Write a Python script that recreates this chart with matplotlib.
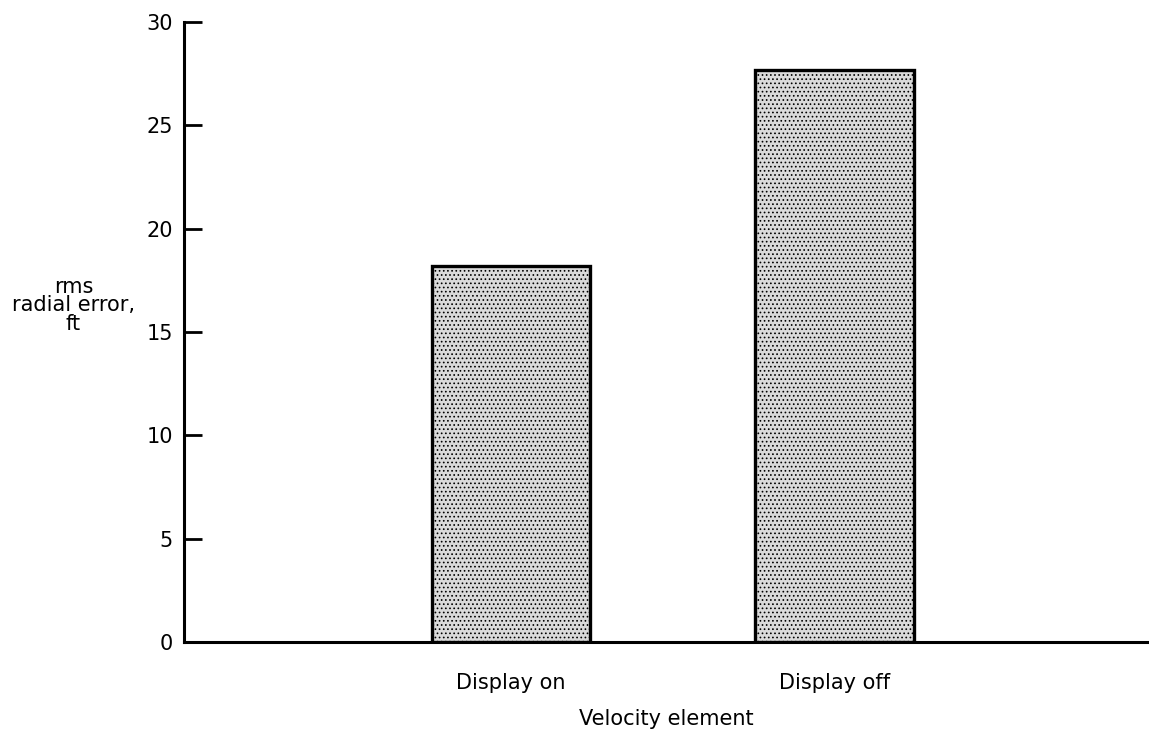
import matplotlib.pyplot as plt
import numpy as np

plt.rcParams['font.family'] = ['DejaVu Sans']
plt.rcParams['hatch.color'] = '#7a7a7a'
plt.rcParams['hatch.linewidth'] = 0.7

categories = ['Display on', 'Display off']
rms_error = [18.2, 27.7]
yticks = [0, 5, 10, 15, 20, 25, 30]

fig = plt.figure(figsize=(11.49, 7.36), dpi=100)
ax = fig.add_axes([0.160, 0.1277, 0.84, 0.8423])

x = np.arange(1, len(categories) + 1)
ax.bar(x, rms_error, width=0.49, facecolor='#dadada', edgecolor='black',
       linewidth=2.4, hatch='....', zorder=3)

ax.set_xlim(-0.01, 2.97)
ax.set_ylim(0, 30)
ax.set_yticks(yticks)
ax.set_xticks(x)
ax.set_xticklabels(categories, fontsize=15)
ax.tick_params(axis='y', direction='in', length=13, width=2, labelsize=15, pad=8)
ax.tick_params(axis='x', length=0, pad=22)

ax.spines['top'].set_visible(False)
ax.spines['right'].set_visible(False)
ax.spines['left'].set_linewidth(2.2)
ax.spines['bottom'].set_linewidth(2.2)

ax.set_xlabel('Velocity element', fontsize=15, labelpad=12)
fig.text(0.064, 0.585, 'rms\nradial error,\nft', ha='center', va='center',
         fontsize=15, linespacing=0.9)

fig.savefig('out.png', dpi=100)
